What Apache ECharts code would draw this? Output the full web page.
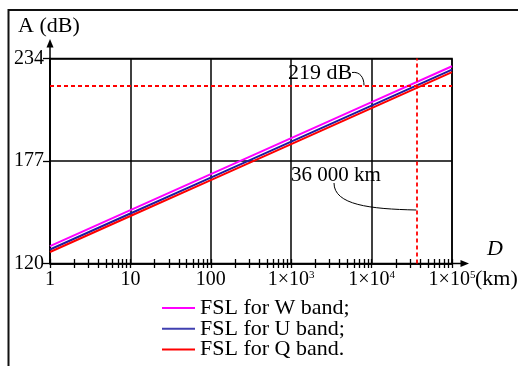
<!DOCTYPE html>
<html>
<head>
<meta charset="utf-8">
<script src="https://cdn.jsdelivr.net/npm/echarts@6/dist/echarts.min.js"></script>
<style>html,body{margin:0;padding:0;background:#fff;}#c{width:518px;height:366px;}</style>
</head>
<body>
<div id="c"></div>
<script>
// ---- data ----
const distances = [1, 10, 100, 1000, 10000, 100000];           // km
const xTickLabels = ['1', '10', '100', '1×10{s|3}', '1×10{s|4}', '1×10{s|5}'];
const yTickValues = [120, 177, 234];
const fslW = [129.7, 149.7, 169.7, 189.7, 209.7, 229.7];
const fslU = [127.8, 147.8, 167.8, 187.8, 207.8, 227.8];
const fslQ = [126.4, 146.4, 166.4, 186.4, 206.4, 226.4];
const seriesNames = ['FSL for W band;', 'FSL for U band;', 'FSL for Q band.'];
const refDistance = 36000;   // km
const refLoss = 219;         // dB

// minor tick positions (1..9 per decade)
const minorTicks = [];
for (let d = 0; d < 5; d++) for (let m = 1; m <= 9; m++) minorTicks.push(m * Math.pow(10, d));
minorTicks.push(100000);

const FONT = "'Liberation Serif','Times New Roman',serif";
const G = { left: 50, right: 66, top: 58.5, bottom: 102.5 };
const W = 518, H = 366;
const plotR = W - G.right, plotB = H - G.bottom;

const pairs = arr => distances.map((d, i) => [d, arr[i]]);

const chart = echarts.init(document.getElementById('c'), null, { renderer: 'canvas' });

const baseX = {
  type: 'log', logBase: 10, min: 1, max: 100000, position: 'bottom', gridIndex: 0
};

const option = {
  animation: false,
  backgroundColor: '#fff',
  grid: { left: G.left, right: G.right, top: G.top, bottom: G.bottom, show: true,
          borderColor: '#000', borderWidth: 1.5, backgroundColor: 'transparent' },
  xAxis: [
    Object.assign({}, baseX, {
      axisLine: { show: true, lineStyle: { color: '#000', width: 1.5 } },
      axisTick: { show: false },
      splitLine: { show: true, lineStyle: { color: '#000', width: 1.5 } },
      axisLabel: {
        show: true, margin: 6, color: '#000', fontFamily: FONT, fontSize: 20,
        formatter: v => xTickLabels[Math.round(Math.log10(v))],
        rich: { s: { fontSize: 11, fontFamily: FONT, color: '#000', verticalAlign: 'top', padding: [0, 0, 10, 0] } }
      }
    }),
    Object.assign({}, baseX, {
      axisLine: { show: false },
      axisTick: { show: true, inside: true, length: 4.5, customValues: minorTicks, lineStyle: { color: '#000', width: 1.3 } },
      axisLabel: { show: false }, splitLine: { show: false }
    }),
    Object.assign({}, baseX, {
      axisLine: { show: false },
      axisTick: { show: true, inside: false, length: 4.5, customValues: minorTicks, lineStyle: { color: '#000', width: 1.3 } },
      axisLabel: { show: false }, splitLine: { show: false }
    })
  ],
  yAxis: {
    type: 'value', min: 120, max: 234,
    axisLine: { show: true, lineStyle: { color: '#000', width: 1.5 } },
    axisTick: { show: true, length: 7, customValues: yTickValues, lineStyle: { color: '#000', width: 1.3 } },
    axisLabel: { show: true, margin: 6, color: '#000', fontFamily: FONT, fontSize: 20, customValues: yTickValues },
    splitLine: { show: true, lineStyle: { color: '#000', width: 1.5 } }
  },
  legend: {
    orient: 'vertical', left: 162, top: 297, height: 70, padding: 0,
    itemWidth: 33, itemHeight: 2, itemGap: -1.2, icon: 'rect',
    selectedMode: false,
    textStyle: { color: '#000', fontFamily: FONT, fontSize: 22, lineHeight: 20 },
    data: seriesNames
  },
  series: [
    { name: seriesNames[0], type: 'line', data: pairs(fslW), symbol: 'none', z: 3,
      lineStyle: { color: '#ff00ff', width: 2 }, itemStyle: { color: '#ff00ff' } },
    { name: seriesNames[1], type: 'line', data: pairs(fslU), symbol: 'none', z: 3,
      lineStyle: { color: '#1c1ca0', width: 2 }, itemStyle: { color: '#4040b0' } },
    { name: seriesNames[2], type: 'line', data: pairs(fslQ), symbol: 'none', z: 3,
      lineStyle: { color: '#ff0000', width: 2 }, itemStyle: { color: '#ff0000' },
      markLine: {
        silent: true, symbol: 'none', label: { show: false },
        lineStyle: { color: '#ff0000', width: 1.8, type: [4, 3] },
        data: [{ yAxis: refLoss }, { xAxis: refDistance }]
      } }
  ]
};
chart.setOption(option);

// decorations positioned from the axes
const ref = chart.convertToPixel({ gridIndex: 0 }, [refDistance, refLoss]);
const rx = ref[0], ry = ref[1];

chart.setOption({
  graphic: [
    // outer frame (left and top)
    { type: 'polyline', shape: { points: [[8.5, H], [8.5, 10], [W, 10]] }, style: { stroke: '#111', lineWidth: 2, fill: null } },
    // y axis arrow
    { type: 'line', shape: { x1: G.left, y1: G.top, x2: G.left, y2: 45 }, style: { stroke: '#000', lineWidth: 1.5 } },
    { type: 'polygon', shape: { points: [[G.left, 39], [G.left - 3.5, 47.5], [G.left + 3.5, 47.5]] }, style: { fill: '#000' } },
    // x axis arrow
    { type: 'line', shape: { x1: plotR, y1: plotB, x2: 463, y2: plotB }, style: { stroke: '#000', lineWidth: 1.5 } },
    { type: 'polygon', shape: { points: [[469, plotB], [460.5, plotB - 3.5], [460.5, plotB + 3.5]] }, style: { fill: '#000' } },
    // axis titles
    { type: 'text', left: 18, top: 15, style: { text: 'A (dB)', fontFamily: FONT, fontSize: 22, fill: '#000' } },
    { type: 'text', left: 487, top: 238, style: { text: 'D', fontFamily: FONT, fontSize: 22, fontStyle: 'italic', fill: '#000' } },
    { type: 'text', left: 475, top: 268, style: { text: '(km)', fontFamily: FONT, fontSize: 22, fill: '#000' } },
    // annotations
    { type: 'text', left: 288, top: ry - 23, style: { text: refLoss + ' dB', fontFamily: FONT, fontSize: 22, fill: '#000' } },
    { type: 'bezierCurve', shape: { x1: 352, y1: ry - 13, cpx1: 360, cpy1: ry - 14, cpx2: 364, cpy2: ry - 8, x2: 364, y2: ry }, style: { stroke: '#000', lineWidth: 1, fill: null } },
    { type: 'text', left: 291, top: 165, style: { text: '36 000 km', fontFamily: FONT, fontSize: 21, fill: '#000' } },
    { type: 'bezierCurve', shape: { x1: 334, y1: 183, cpx1: 334, cpy1: 205, cpx2: 370, cpy2: 209, x2: rx, y2: 210 }, style: { stroke: '#000', lineWidth: 1, fill: null } }
  ]
});
</script>
</body>
</html>
